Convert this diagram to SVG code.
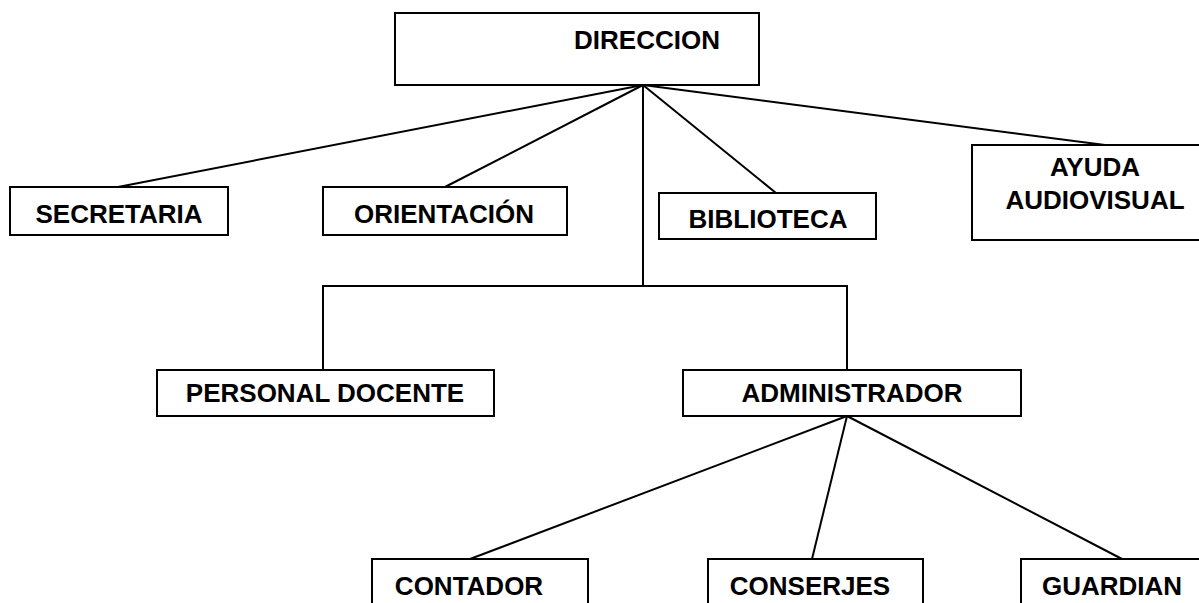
<svg xmlns="http://www.w3.org/2000/svg" width="1199" height="603" viewBox="0 0 1199 603">
<style>
rect{fill:#fff;stroke:#000;stroke-width:2}
text{font-family:"Liberation Sans",Arial,sans-serif;font-weight:bold;font-size:26px;text-anchor:middle;fill:#000}
.c line,.c polyline{stroke:#000;stroke-width:2;fill:none}
</style>
<rect x="0" y="0" width="1199" height="603" style="stroke:none"/>
<g class="c" id="connectors">
<line x1="643" y1="85" x2="118" y2="187"/>
<line x1="643" y1="85" x2="445" y2="187"/>
<line x1="643" y1="85" x2="776" y2="193"/>
<line x1="643" y1="85" x2="1105" y2="145"/>
<line x1="643" y1="85" x2="643" y2="286"/>
<polyline points="323,370 323,286 847,286 847,370"/>
<line x1="847" y1="416" x2="470" y2="559"/>
<line x1="847" y1="416" x2="812" y2="559"/>
<line x1="847" y1="416" x2="1122" y2="559"/>
</g>
<g id="direccion"><rect x="395" y="13" width="364" height="72"/><text x="647" y="49">DIRECCION</text></g>
<g id="secretaria"><rect x="10" y="187" width="218" height="48"/><text x="119" y="223">SECRETARIA</text></g>
<g id="orientacion"><rect x="323" y="187" width="244" height="48"/><text x="444" y="223">ORIENTACIÓN</text></g>
<g id="biblioteca"><rect x="659" y="193" width="217" height="46"/><text x="768" y="228">BIBLIOTECA</text></g>
<g id="ayuda"><rect x="972" y="145" width="232" height="95"/><text x="1095" y="176">AYUDA</text><text x="1095" y="209">AUDIOVISUAL</text></g>
<g id="personal"><rect x="157" y="370" width="337" height="46"/><text x="325" y="402">PERSONAL DOCENTE</text></g>
<g id="administrador"><rect x="683" y="370" width="338" height="46"/><text x="852" y="402">ADMINISTRADOR</text></g>
<g id="contador"><rect x="372" y="559" width="216" height="60"/><text x="469" y="595">CONTADOR</text></g>
<g id="conserjes"><rect x="708" y="559" width="215" height="60"/><text x="810" y="595">CONSERJES</text></g>
<g id="guardian"><rect x="1021" y="559" width="190" height="60"/><text x="1112" y="595">GUARDIAN</text></g>
</svg>
